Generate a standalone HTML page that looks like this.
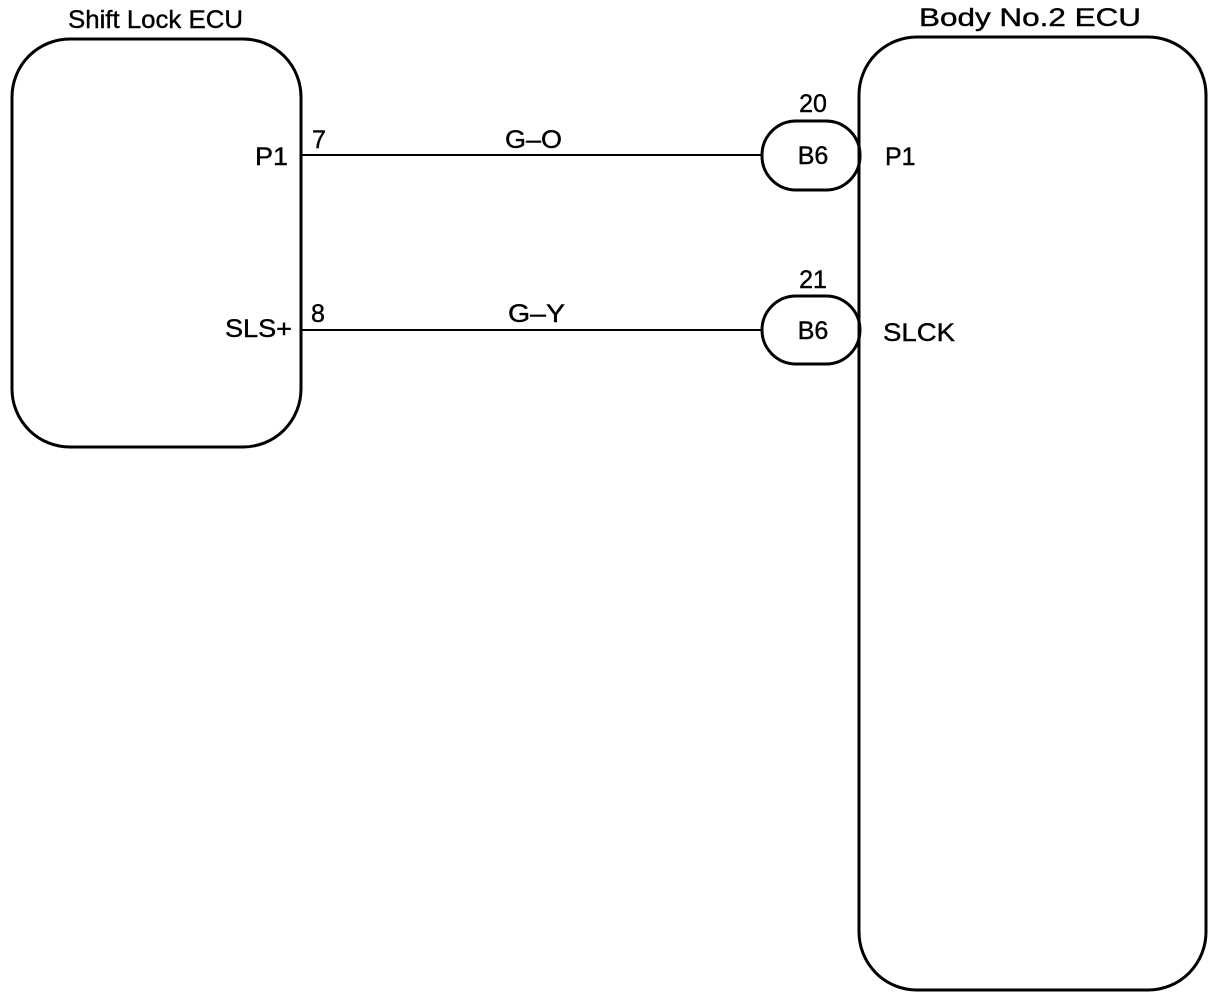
<!DOCTYPE html>
<html><head><style>body{margin:0;background:#fff}</style></head><body>
<svg width="1216" height="998" xmlns="http://www.w3.org/2000/svg" font-family="Liberation Sans, Arial, sans-serif" font-size="25" fill="#000" stroke="#000" stroke-width="0.4">
<g stroke-width="3" fill="none">
<rect x="12" y="39" width="289" height="408" rx="58" ry="58"/>
<rect x="859" y="37" width="347" height="953" rx="58" ry="58"/>
</g>
<text x="68" y="28" textLength="175" lengthAdjust="spacingAndGlyphs">Shift Lock ECU</text>
<text x="919" y="26" textLength="222" lengthAdjust="spacingAndGlyphs">Body No.2 ECU</text>
<line x1="301" y1="155" x2="762" y2="155" stroke-width="2"/>
<line x1="301" y1="330" x2="762" y2="330" stroke-width="2"/>
<rect x="762" y="121" width="98" height="69" rx="34" fill="#fff" stroke-width="3"/>
<rect x="762" y="296" width="98" height="68" rx="34" fill="#fff" stroke-width="3"/>
<line x1="859" y1="100" x2="859" y2="930" stroke-width="3"/>
<text x="813" y="164" text-anchor="middle">B6</text>
<text x="813" y="339" text-anchor="middle">B6</text>
<text x="813" y="112" text-anchor="middle">20</text>
<text x="813" y="288" text-anchor="middle">21</text>
<text x="885" y="165">P1</text>
<text x="883" y="341" textLength="72" lengthAdjust="spacingAndGlyphs">SLCK</text>
<text x="255" y="165" textLength="33" lengthAdjust="spacingAndGlyphs">P1</text>
<text x="225" y="337" textLength="67" lengthAdjust="spacingAndGlyphs">SLS+</text>
<text x="312" y="148">7</text>
<text x="311" y="322">8</text>
<text x="505" y="148" textLength="57" lengthAdjust="spacingAndGlyphs">G–O</text>
<text x="508" y="322" textLength="57" lengthAdjust="spacingAndGlyphs">G–Y</text>
</svg>
</body></html>
